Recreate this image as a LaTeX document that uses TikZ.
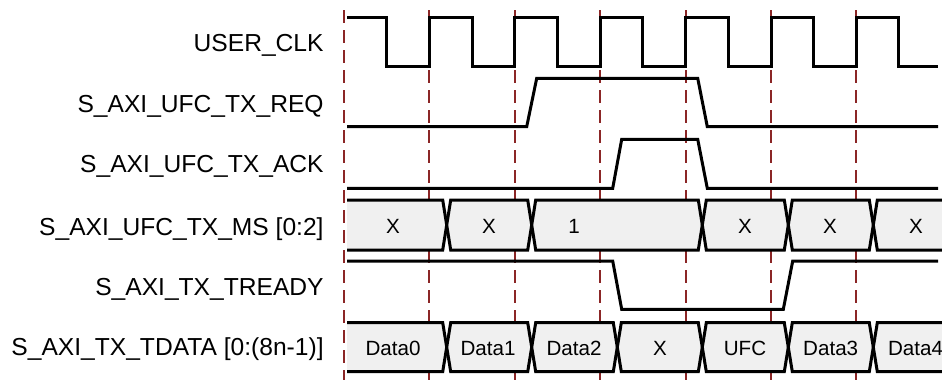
\documentclass[tikz,border=0pt]{standalone}
\usepackage{fontspec}
\setmainfont{Liberation Sans}
\usepackage{xcolor}
\usetikzlibrary{positioning,calc}
\definecolor{gridred}{RGB}{139,38,38}
\definecolor{busgray}{RGB}{240,240,240}

\begin{document}
\begin{tikzpicture}[x=0.5pt,y=-0.5pt,
    wave/.style={line width=1.5pt,line join=miter},
    tick/.style={draw=gridred,line width=1pt,dash pattern=on 6.25pt off 3.75pt},
    sig/.style={anchor=base east,inner sep=0pt,font=\fontsize{12.3}{14}\selectfont},
    val/.style={anchor=base,inner sep=0pt,font=\fontsize{10.3}{12}\selectfont}]
        \clip (0,0) rectangle (942,380);
        % draw vertical lines
        \foreach \x in {0,...,6}
        \draw[tick] ({344+85.4*\x},10) -- ({344+85.4*\x},380);
        % draw signal names
        \draw (324,51.7) node[sig] (clk) {USER\_CLK};
        \draw (324,112.7) node[sig] (req) {S\_AXI\_UFC\_TX\_REQ};
        \draw (324,172.7) node[sig] (ack) {S\_AXI\_UFC\_TX\_ACK};
        \draw (324,235) node[sig] (ms) {S\_AXI\_UFC\_TX\_MS [0:2]};
        \draw (324,295) node[sig] (tready) {S\_AXI\_TX\_TREADY};
        \draw (324,355.7) node[sig] (tdata) {S\_AXI\_TX\_TDATA [0:(8n-1)]};
        % draw clock
        \draw[wave] (347,17) \foreach \k in {0,...,5} {
          -- ({386.7+85.4*\k},17) -- ({386.7+85.4*\k},66)
          -- ({429.4+85.4*\k},66) -- ({429.4+85.4*\k},17)}
          -- (898.3,17) -- (898.3,66) -- (938,66);
        % draw req, ack and tready
        \draw[wave] (347,126.7) -- (526.7,126.7) -- (536.7,78.3) -- (697.7,78.3) -- (707.3,126.7) -- (938,126.7);
        \draw[wave] (347,188.3) -- (612.7,188.3) -- (621.7,139.3) -- (697.7,139.3) -- (707.3,188.3) -- (938,188.3);
        \draw[wave] (347,261) -- (612.7,261) -- (621.7,309.3) -- (783.3,309.3) -- (792.7,261) -- (938,261);
        % draw ms bus
        \fill[busgray] (347,200) -- (442.7,200) -- (446.7,225) -- (442.7,250) -- (347,250) -- cycle;
        \draw[wave] (347,200) -- (442.7,200) -- (446.7,225) -- (442.7,250) -- (347,250);
        \foreach \l/\r in {446.7/531.7,531.7/702.3,702.3/788.3,788.3/873.3,873.3/990}
        \draw[wave,fill=busgray] (\l,225) -- (\l+4,200) -- (\r-4,200) -- (\r,225) -- (\r-4,250) -- (\l+4,250) -- cycle;
        % draw tdata bus
        \fill[busgray] (347,322.7) -- (442.7,322.7) -- (446.7,347.2) -- (442.7,371.7) -- (347,371.7) -- cycle;
        \draw[wave] (347,322.7) -- (442.7,322.7) -- (446.7,347.2) -- (442.7,371.7) -- (347,371.7);
        \foreach \l/\r in {446.7/531.7,531.7/617.3,617.3/702.3,702.3/788.3,788.3/873.3,873.3/990}
        \draw[wave,fill=busgray] (\l,347.2) -- (\l+4,322.7) -- (\r-4,322.7) -- (\r,347.2) -- (\r-4,371.7) -- (\l+4,371.7) -- cycle;
        % draw bus values
        \foreach \x/\t [count=\i] in {393/X,489/X,574/1,745/X,830/X,916/X}
        \draw (\x,233.3) node[val] (ms\i) {\t};
        \foreach \x/\t [count=\i] in {393/Data0,488/Data1,574/Data2,660/X,745/UFC,830.7/Data3,915.6/Data4}
        \draw (\x,355.7) node[val] (td\i) {\t};
\end{tikzpicture}
\end{document}
